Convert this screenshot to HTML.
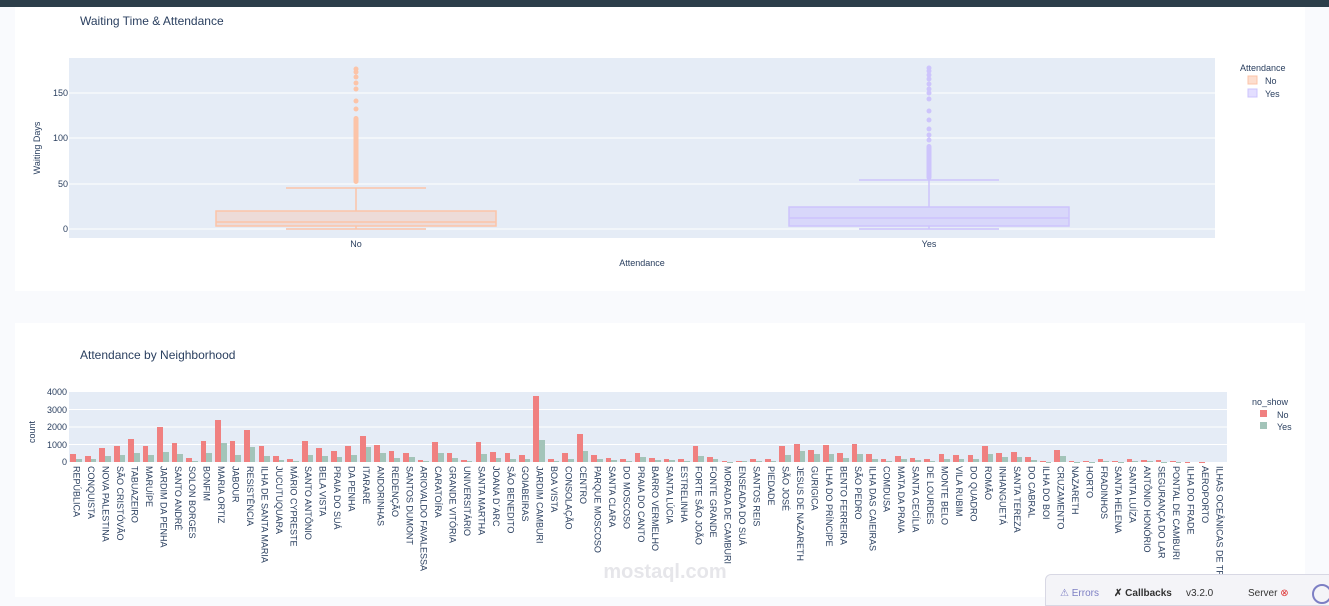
<!DOCTYPE html>
<html><head><meta charset="utf-8">
<style>
body{margin:0;width:1329px;height:597px;overflow:hidden;background:#f9fafd;font-family:"Liberation Sans",sans-serif;color:#2a3f5f;position:relative}
.card{position:absolute;background:#fff}
#bars{position:absolute;left:69px;top:392px;width:1158px;height:70px;display:flex}
#bars i{flex:1;position:relative;display:block}
#bars i::before,#bars i::after{content:"";position:absolute;bottom:0;width:5.7px}
#bars i::before{left:1.45px;height:calc(var(--a)*0.01725px);background:#f08080}
#bars i::after{left:7.15px;height:calc(var(--b)*0.01725px);background:#a3c4b9}
#labs{position:absolute;left:69px;top:466px;width:1158px;height:110px;display:flex;overflow:hidden}
#labs span{flex:1;writing-mode:vertical-rl;font-size:9px;line-height:14.3px;white-space:nowrap;color:#2a3f5f}
</style></head><body>
<div style="position:absolute;left:0;top:0;width:1329px;height:7px;background:#2c3e4a"></div>
<div class="card" style="left:15px;top:7px;width:1290px;height:284px"></div>
<div class="card" style="left:15px;top:323px;width:1290px;height:274px"></div>
<svg style="position:absolute;left:0;top:0" width="1329" height="597" font-family="Liberation Sans, sans-serif">
<text x="80" y="25" font-size="12" fill="#2a3f5f">Waiting Time &amp; Attendance</text>
<rect x="69" y="58" width="1146" height="180" fill="#e5ecf6"/>
<g stroke="#fff" stroke-width="1">
<line x1="69" x2="1215" y1="229" y2="229"/><line x1="69" x2="1215" y1="184" y2="184"/><line x1="69" x2="1215" y1="138" y2="138"/><line x1="69" x2="1215" y1="93" y2="93"/></g>
<g font-size="9" fill="#2a3f5f" text-anchor="end"><text x="68" y="232">0</text><text x="68" y="187">50</text><text x="68" y="141">100</text><text x="68" y="96">150</text></g>
<text transform="translate(40,148) rotate(-90)" font-size="9" text-anchor="middle" fill="#2a3f5f">Waiting Days</text>
<g font-size="9" fill="#2a3f5f" text-anchor="middle"><text x="356" y="247">No</text><text x="929" y="247">Yes</text><text x="642" y="266">Attendance</text></g>
<g stroke="#fcc4a8" stroke-width="1.5" fill="none">
<rect x="216" y="211" width="280" height="15" fill="rgba(252,190,160,0.35)"/>
<line x1="216" x2="496" y1="222" y2="222"/>
<line x1="356" x2="356" y1="211" y2="188"/><line x1="286" x2="426" y1="188" y2="188"/>
<line x1="286" x2="426" y1="229" y2="229"/><line x1="356" x2="356" y1="226" y2="229"/></g>
<g fill="#fcc4a8"><rect x="353.5" y="116" width="5" height="68" rx="2.5"/>
<circle cx="356" cy="109" r="2.5"/><circle cx="356" cy="101" r="2.5"/><circle cx="356" cy="89" r="2.5"/><circle cx="356" cy="83" r="2.5"/><circle cx="356" cy="77" r="2.5"/><circle cx="356" cy="72" r="2.5"/><circle cx="356" cy="69" r="2.5"/></g>
<g stroke="#cdc4fc" stroke-width="1.5" fill="none">
<rect x="789" y="207" width="280" height="19" fill="rgba(200,190,255,0.45)"/>
<line x1="789" x2="1069" y1="218" y2="218"/>
<line x1="929" x2="929" y1="207" y2="180"/><line x1="859" x2="999" y1="180" y2="180"/>
<line x1="859" x2="999" y1="229" y2="229"/><line x1="929" x2="929" y1="226" y2="229"/></g>
<g fill="#cdc4fc"><rect x="926.5" y="144" width="5" height="36" rx="2.5"/>
<circle cx="929" cy="140" r="2.5"/><circle cx="929" cy="135" r="2.5"/><circle cx="929" cy="129" r="2.5"/><circle cx="929" cy="120" r="2.5"/><circle cx="929" cy="111" r="2.5"/><circle cx="929" cy="99" r="2.5"/><circle cx="929" cy="93" r="2.5"/><circle cx="929" cy="89" r="2.5"/><circle cx="929" cy="84" r="2.5"/><circle cx="929" cy="79" r="2.5"/><circle cx="929" cy="75" r="2.5"/><circle cx="929" cy="71" r="2.5"/><circle cx="929" cy="68" r="2.5"/></g>
<text x="1240" y="71" font-size="9" fill="#2a3f5f">Attendance</text>
<rect x="1248" y="76" width="9" height="8" fill="rgba(252,190,160,0.5)" stroke="#fcc4a8"/><text x="1265" y="84" font-size="9" fill="#2a3f5f">No</text>
<rect x="1248" y="89" width="9" height="8" fill="rgba(200,190,255,0.5)" stroke="#cdc4fc"/><text x="1265" y="97" font-size="9" fill="#2a3f5f">Yes</text>

<text x="80" y="359" font-size="12" fill="#2a3f5f">Attendance by Neighborhood</text>
<rect x="69" y="392" width="1158" height="70" fill="#e5ecf6"/>
<g stroke="#fff"><line x1="69" x2="1227" y1="444.5" y2="444.5"/><line x1="69" x2="1227" y1="427" y2="427"/><line x1="69" x2="1227" y1="409.5" y2="409.5"/></g>
<g font-size="9" fill="#2a3f5f" text-anchor="end"><text x="67" y="465">0</text><text x="67" y="448">1000</text><text x="67" y="430">2000</text><text x="67" y="413">3000</text><text x="67" y="395">4000</text></g>
<text transform="translate(35,432) rotate(-90)" font-size="9" text-anchor="middle" fill="#2a3f5f">count</text>
<text x="1252" y="405" font-size="9" fill="#2a3f5f">no_show</text>
<rect x="1260" y="410" width="7" height="7" fill="#f08080"/><text x="1277" y="418" font-size="9" fill="#2a3f5f">No</text>
<rect x="1260" y="422" width="7" height="7" fill="#a3c4b9"/><text x="1277" y="430" font-size="9" fill="#2a3f5f">Yes</text>
<text x="665" y="578" font-size="20" fill="#e6e6ea" text-anchor="middle" font-weight="bold">mostaql.com</text>
</svg>
<div id="bars">
<i style="--a:450;--b:150"></i><i style="--a:350;--b:150"></i><i style="--a:800;--b:350"></i><i style="--a:900;--b:380"></i><i style="--a:1350;--b:500"></i><i style="--a:950;--b:420"></i><i style="--a:2050;--b:600"></i><i style="--a:1100;--b:480"></i><i style="--a:250;--b:80"></i><i style="--a:1200;--b:500"></i><i style="--a:2450;--b:1100"></i><i style="--a:1200;--b:420"></i><i style="--a:1850;--b:850"></i><i style="--a:900;--b:330"></i><i style="--a:350;--b:130"></i><i style="--a:150;--b:80"></i><i style="--a:1200;--b:420"></i><i style="--a:800;--b:320"></i><i style="--a:650;--b:300"></i><i style="--a:950;--b:380"></i><i style="--a:1480;--b:850"></i><i style="--a:1000;--b:500"></i><i style="--a:650;--b:250"></i><i style="--a:550;--b:300"></i><i style="--a:100;--b:70"></i><i style="--a:1150;--b:550"></i><i style="--a:550;--b:250"></i><i style="--a:100;--b:50"></i><i style="--a:1150;--b:450"></i><i style="--a:600;--b:250"></i><i style="--a:550;--b:200"></i><i style="--a:400;--b:150"></i><i style="--a:3800;--b:1300"></i><i style="--a:150;--b:60"></i><i style="--a:550;--b:200"></i><i style="--a:1600;--b:650"></i><i style="--a:400;--b:150"></i><i style="--a:250;--b:100"></i><i style="--a:200;--b:80"></i><i style="--a:500;--b:300"></i><i style="--a:250;--b:100"></i><i style="--a:200;--b:100"></i><i style="--a:200;--b:60"></i><i style="--a:950;--b:350"></i><i style="--a:300;--b:150"></i><i style="--a:50;--b:20"></i><i style="--a:50;--b:30"></i><i style="--a:200;--b:80"></i><i style="--a:150;--b:60"></i><i style="--a:950;--b:400"></i><i style="--a:1050;--b:650"></i><i style="--a:700;--b:450"></i><i style="--a:1000;--b:480"></i><i style="--a:500;--b:250"></i><i style="--a:1050;--b:450"></i><i style="--a:450;--b:200"></i><i style="--a:200;--b:80"></i><i style="--a:350;--b:150"></i><i style="--a:250;--b:100"></i><i style="--a:150;--b:60"></i><i style="--a:450;--b:150"></i><i style="--a:400;--b:150"></i><i style="--a:400;--b:150"></i><i style="--a:900;--b:450"></i><i style="--a:550;--b:300"></i><i style="--a:600;--b:300"></i><i style="--a:300;--b:130"></i><i style="--a:30;--b:10"></i><i style="--a:700;--b:350"></i><i style="--a:60;--b:20"></i><i style="--a:50;--b:20"></i><i style="--a:150;--b:40"></i><i style="--a:70;--b:20"></i><i style="--a:180;--b:70"></i><i style="--a:140;--b:40"></i><i style="--a:90;--b:20"></i><i style="--a:60;--b:10"></i><i style="--a:8;--b:2"></i><i style="--a:7;--b:1"></i><i style="--a:2;--b:0"></i>
</div>
<div id="labs">
<span>REPÚBLICA</span><span>CONQUISTA</span><span>NOVA PALESTINA</span><span>SÃO CRISTÓVÃO</span><span>TABUAZEIRO</span><span>MARUÍPE</span><span>JARDIM DA PENHA</span><span>SANTO ANDRÉ</span><span>SOLON BORGES</span><span>BONFIM</span><span>MARIA ORTIZ</span><span>JABOUR</span><span>RESISTÊNCIA</span><span>ILHA DE SANTA MARIA</span><span>JUCUTUQUARA</span><span>MÁRIO CYPRESTE</span><span>SANTO ANTÔNIO</span><span>BELA VISTA</span><span>PRAIA DO SUÁ</span><span>DA PENHA</span><span>ITARARÉ</span><span>ANDORINHAS</span><span>REDENÇÃO</span><span>SANTOS DUMONT</span><span>ARIOVALDO FAVALESSA</span><span>CARATOÍRA</span><span>GRANDE VITÓRIA</span><span>UNIVERSITÁRIO</span><span>SANTA MARTHA</span><span>JOANA D´ARC</span><span>SÃO BENEDITO</span><span>GOIABEIRAS</span><span>JARDIM CAMBURI</span><span>BOA VISTA</span><span>CONSOLAÇÃO</span><span>CENTRO</span><span>PARQUE MOSCOSO</span><span>SANTA CLARA</span><span>DO MOSCOSO</span><span>PRAIA DO CANTO</span><span>BARRO VERMELHO</span><span>SANTA LÚCIA</span><span>ESTRELINHA</span><span>FORTE SÃO JOÃO</span><span>FONTE GRANDE</span><span>MORADA DE CAMBURI</span><span>ENSEADA DO SUÁ</span><span>SANTOS REIS</span><span>PIEDADE</span><span>SÃO JOSÉ</span><span>JESUS DE NAZARETH</span><span>GURIGICA</span><span>ILHA DO PRÍNCIPE</span><span>BENTO FERREIRA</span><span>SÃO PEDRO</span><span>ILHA DAS CAIEIRAS</span><span>COMDUSA</span><span>MATA DA PRAIA</span><span>SANTA CECÍLIA</span><span>DE LOURDES</span><span>MONTE BELO</span><span>VILA RUBIM</span><span>DO QUADRO</span><span>ROMÃO</span><span>INHANGUETÁ</span><span>SANTA TEREZA</span><span>DO CABRAL</span><span>ILHA DO BOI</span><span>CRUZAMENTO</span><span>NAZARETH</span><span>HORTO</span><span>FRADINHOS</span><span>SANTA HELENA</span><span>SANTA LUÍZA</span><span>ANTÔNIO HONÓRIO</span><span>SEGURANÇA DO LAR</span><span>PONTAL DE CAMBURI</span><span>ILHA DO FRADE</span><span>AEROPORTO</span><span>ILHAS OCEÂNICAS DE TRINDADE</span>
</div>
<div style="position:absolute;left:1045px;top:574px;width:290px;height:30px;background:#f4f4f8;border:1px solid #d8d8e4;border-radius:6px 0 0 0;font-size:10px;color:#333;white-space:nowrap">
<span style="position:absolute;left:14px;top:13px;color:#7d7fc4">⚠ Errors</span>
<span style="position:absolute;left:68px;top:13px;font-weight:bold">✗ Callbacks</span>
<span style="position:absolute;left:140px;top:13px">v3.2.0</span>
<span style="position:absolute;left:202px;top:13px">Server <span style="color:#d33">⊗</span></span>
<span style="position:absolute;left:266px;top:9px;width:16px;height:16px;border:2px solid #7d7fc4;border-radius:50%"></span>
</div>
</body></html>
